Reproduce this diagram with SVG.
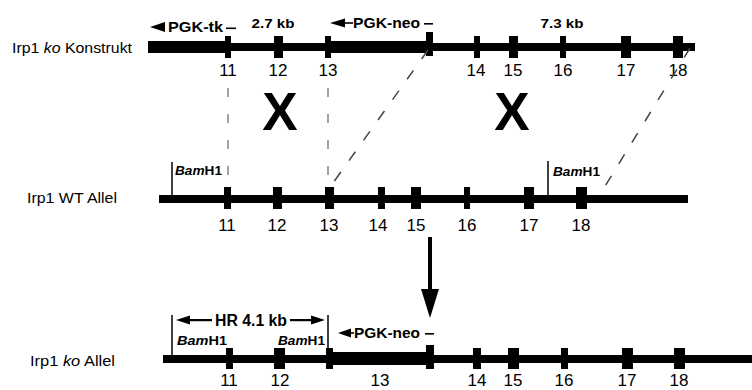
<svg xmlns="http://www.w3.org/2000/svg" width="752" height="390" viewBox="0 0 752 390">
<style>
text{font-family:"Liberation Sans",Arial,sans-serif;fill:#000}
.lbl{font-size:15px}
.num{font-size:17px;text-anchor:middle}
.b{font-weight:bold}
.kb{font-size:13.5px;font-weight:bold;text-anchor:middle}
.bam{font-size:12.5px;font-weight:bold}
.vl{stroke:#000;stroke-width:1.5}
.gd{stroke:#999;stroke-width:1.8;stroke-dasharray:9 17;fill:none}
.dd{stroke:#444;stroke-width:1.5;stroke-dasharray:11 14;fill:none}
</style>
<rect width="752" height="390" fill="#fff"/>

<g id="row-konstrukt">
<text class="lbl" x="12" y="53" textLength="120" lengthAdjust="spacingAndGlyphs">Irp1 <tspan font-style="italic">ko</tspan> Konstrukt</text>
<rect x="148" y="41" width="80" height="12"/>
<rect x="228" y="43" width="100" height="8"/>
<rect x="328" y="41" width="100" height="12"/>
<rect x="428" y="43" width="267" height="8"/>
<rect x="225" y="36" width="6" height="22"/>
<rect x="274" y="36" width="9" height="22"/>
<rect x="325" y="36" width="6" height="22"/>
<rect x="426" y="32" width="7" height="24"/>
<rect x="474" y="36" width="6" height="22"/>
<rect x="509" y="36" width="9" height="22"/>
<rect x="560" y="36" width="6" height="22"/>
<rect x="621" y="36" width="10" height="22"/>
<rect x="673" y="36" width="10" height="22"/>
<polygon points="150,27 165,22 165,32"/>
<text class="b" x="168" y="32" font-size="14" textLength="55" lengthAdjust="spacingAndGlyphs">PGK-tk</text>
<rect x="226" y="27.5" width="10" height="1.6"/>
<text class="kb" x="273" y="28" textLength="43" lengthAdjust="spacingAndGlyphs">2.7 kb</text>
<polygon points="330,23 345,18.5 345,27.5"/>
<rect x="344" y="22.2" width="9" height="1.6"/>
<text class="b" x="353" y="28" font-size="14" textLength="67" lengthAdjust="spacingAndGlyphs">PGK-neo</text>
<rect x="424" y="23" width="9" height="1.6"/>
<text class="kb" x="562" y="28" textLength="43" lengthAdjust="spacingAndGlyphs">7.3 kb</text>
<text class="num" x="228" y="76">11</text>
<text class="num" x="278" y="76">12</text>
<text class="num" x="328" y="76">13</text>
<text class="num" x="476" y="76">14</text>
<text class="num" x="513" y="76">15</text>
<text class="num" x="563" y="76">16</text>
<text class="num" x="626" y="76">17</text>
<text class="num" x="678" y="76">18</text>
</g>

<g id="crossover-marks">
<text x="280" y="130" font-size="53" font-weight="bold" text-anchor="middle">X</text>
<text x="512" y="130" font-size="53" font-weight="bold" text-anchor="middle">X</text>
</g>

<g id="row-wt">
<text class="lbl" x="27" y="203" textLength="90" lengthAdjust="spacingAndGlyphs">Irp1 WT Allel</text>
<rect x="159" y="195" width="529" height="8"/>
<rect x="224" y="187" width="7" height="22"/>
<rect x="273" y="187" width="9" height="22"/>
<rect x="325" y="187" width="9" height="22"/>
<rect x="378" y="187" width="7" height="22"/>
<rect x="411" y="187" width="10" height="22"/>
<rect x="464" y="187" width="6" height="22"/>
<rect x="524" y="187" width="10" height="22"/>
<rect x="576" y="187" width="11" height="22"/>
<line class="vl" x1="172" y1="162" x2="172" y2="199"/>
<text class="bam" x="175" y="175" textLength="47" lengthAdjust="spacingAndGlyphs"><tspan font-style="italic">Bam</tspan>H1</text>
<line class="vl" x1="548" y1="161" x2="548" y2="199"/>
<text class="bam" x="553" y="176" textLength="47" lengthAdjust="spacingAndGlyphs"><tspan font-style="italic">Bam</tspan>H1</text>
<text class="num" x="227" y="231">11</text>
<text class="num" x="277" y="231">12</text>
<text class="num" x="329" y="231">13</text>
<text class="num" x="378" y="231">14</text>
<text class="num" x="416" y="231">15</text>
<text class="num" x="467" y="231">16</text>
<text class="num" x="529" y="231">17</text>
<text class="num" x="581" y="231">18</text>
</g>

<g id="row-ko">
<text class="lbl" x="30" y="366" textLength="85" lengthAdjust="spacingAndGlyphs">Irp1 <tspan font-style="italic">ko</tspan>  Allel</text>
<rect x="163" y="355" width="589" height="8"/>
<rect x="329" y="352" width="101" height="13"/>
<rect x="226" y="348" width="7" height="21"/>
<rect x="274" y="348" width="11" height="21"/>
<rect x="326" y="348" width="7" height="21"/>
<rect x="426" y="345" width="8" height="24"/>
<rect x="473" y="348" width="8" height="21"/>
<rect x="508" y="348" width="11" height="21"/>
<rect x="561" y="348" width="7" height="21"/>
<rect x="622" y="348" width="11" height="21"/>
<rect x="674" y="348" width="11" height="21"/>
<line class="vl" x1="172" y1="315" x2="172" y2="359"/>
<line class="vl" x1="328" y1="315" x2="328" y2="350"/>
<text class="bam" x="177" y="345" textLength="50" lengthAdjust="spacingAndGlyphs"><tspan font-style="italic">Bam</tspan>H1</text>
<text class="bam" x="278" y="345" textLength="47" lengthAdjust="spacingAndGlyphs"><tspan font-style="italic">Bam</tspan>H1</text>
<polygon points="176,320 190,315.5 190,324.5"/>
<rect x="189" y="319" width="23" height="2.2"/>
<text class="b" x="251" y="326" font-size="16" text-anchor="middle" textLength="72" lengthAdjust="spacingAndGlyphs">HR 4.1 kb</text>
<rect x="290" y="319" width="22" height="2.2"/>
<polygon points="325,320 311,315.5 311,324.5"/>
<polygon points="338,333 351,328.5 351,337.5"/>
<rect x="350" y="332.2" width="4" height="1.6"/>
<text class="b" x="354" y="338" font-size="14" textLength="66" lengthAdjust="spacingAndGlyphs">PGK-neo</text>
<rect x="425" y="333" width="9" height="1.6"/>
<text class="num" x="229" y="386">11</text>
<text class="num" x="280" y="386">12</text>
<text class="num" x="380" y="386">13</text>
<text class="num" x="477" y="386">14</text>
<text class="num" x="513" y="386">15</text>
<text class="num" x="564" y="386">16</text>
<text class="num" x="627" y="386">17</text>
<text class="num" x="679" y="386">18</text>
</g>

<g id="connectors">
<line class="gd" x1="228" y1="88" x2="228" y2="186"/>
<line class="gd" x1="328" y1="88" x2="328" y2="186"/>
<line class="dd" x1="428" y1="50" x2="328" y2="190"/>
<line class="dd" x1="690" y1="48" x2="599" y2="196"/>
<line x1="430" y1="237" x2="430" y2="292" stroke="#000" stroke-width="4"/>
<polygon points="421,289 439,289 430,318"/>
</g>
</svg>
